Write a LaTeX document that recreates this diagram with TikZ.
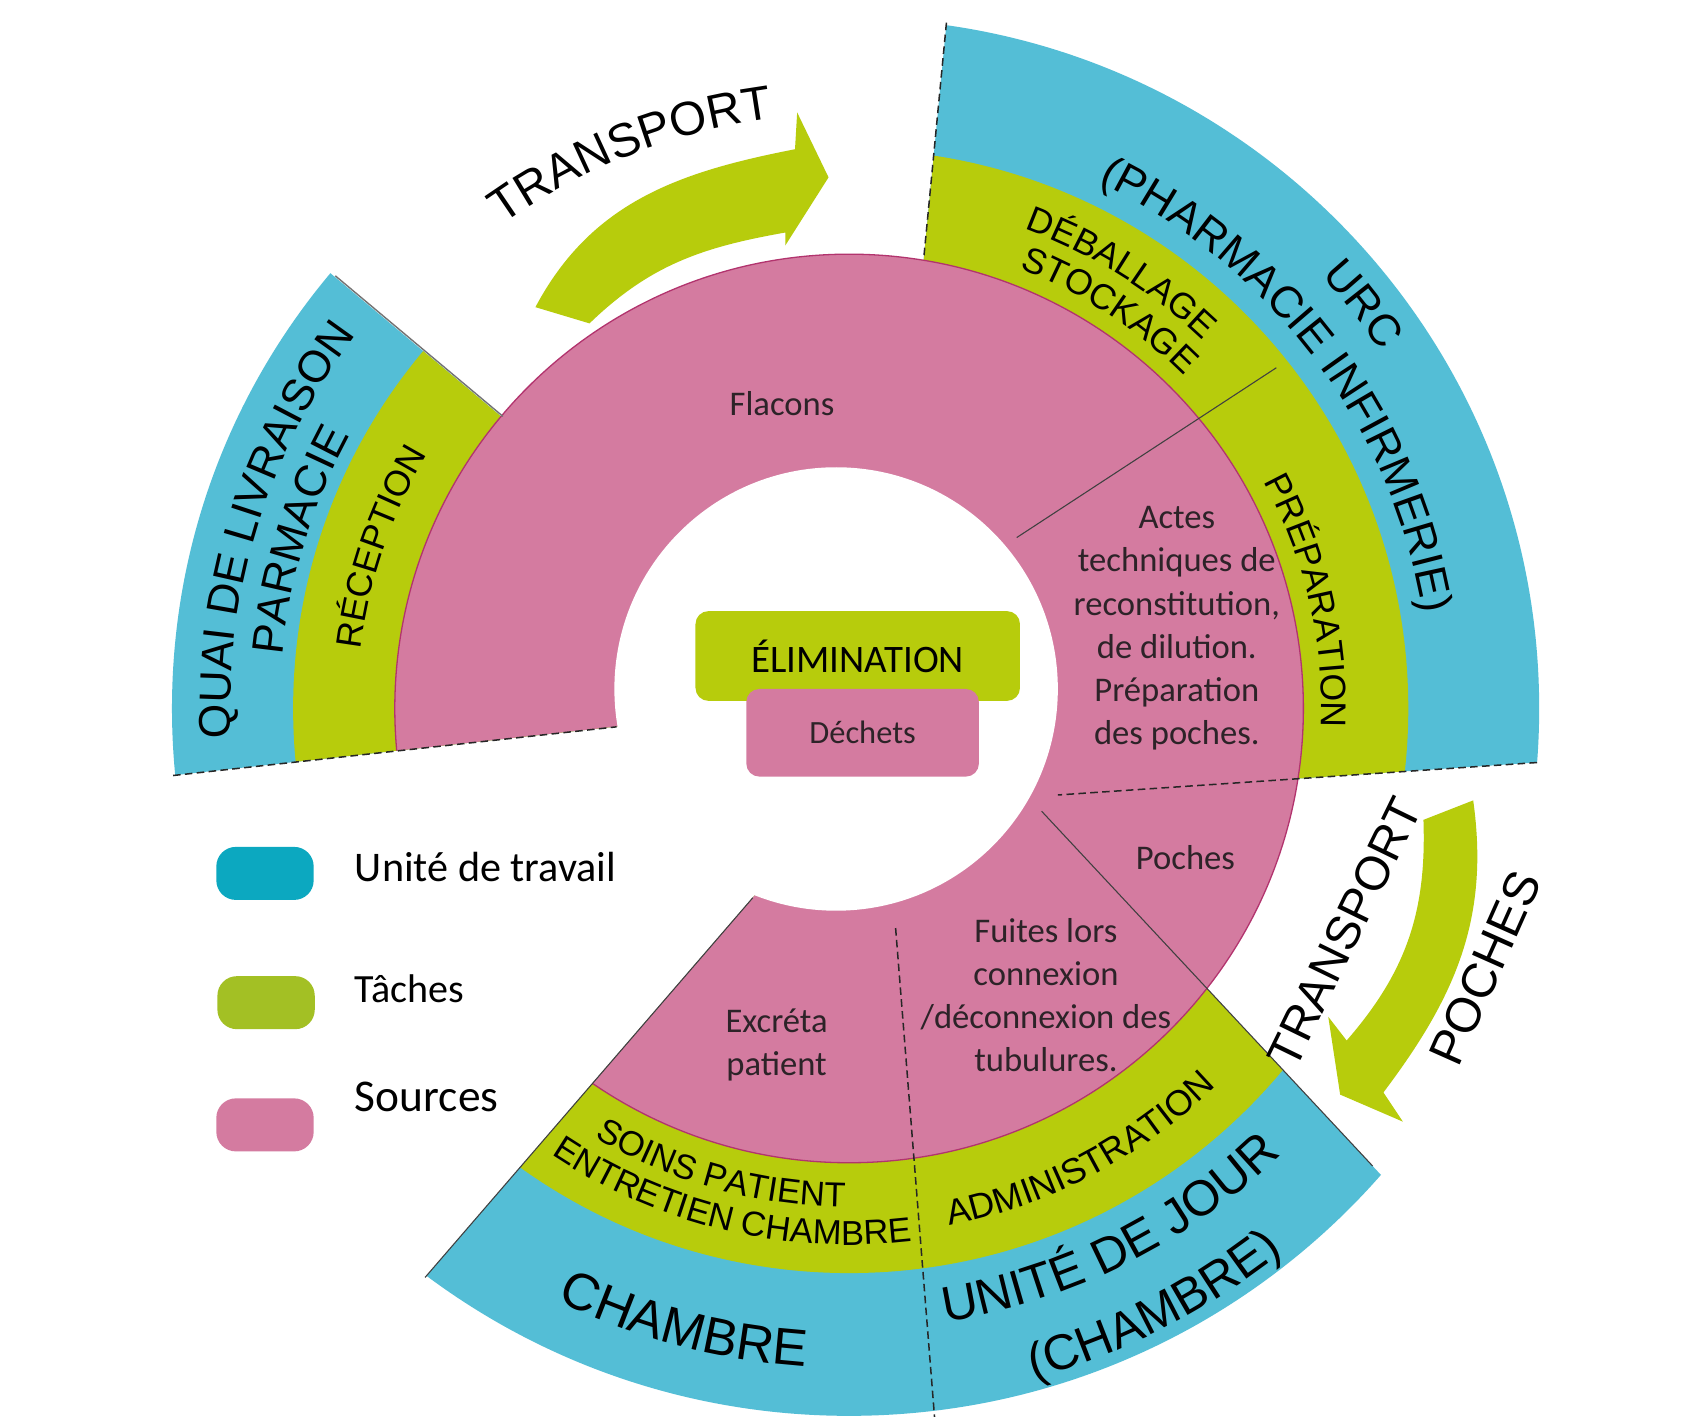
\documentclass[tikz,border=0pt]{standalone}
\usepackage{fontspec}
\setmainfont{Carlito}
\newfontfamily\arialf{Liberation Sans}
\usetikzlibrary{calc,decorations.text}
\definecolor{ublue}{RGB}{84,190,214}
\definecolor{ugreen}{RGB}{183,204,12}
\definecolor{upink}{RGB}{212,123,160}
\definecolor{pedge}{RGB}{178,52,110}
\definecolor{lblue}{RGB}{12,168,192}
\definecolor{lgreen}{RGB}{163,192,36}
\definecolor{txtdark}{RGB}{45,35,40}
\newcommand\RingLabel[5]{%
  \path[decorate,decoration={text along path,text align=center,
    text={|\arialf\fontsize{#4}{#4}\selectfont|#5}}]
    ($(C1)+(#2:#1)$) arc[start angle=#2,end angle=#3,radius=#1];}
\begin{document}
\begin{tikzpicture}[x=1pt,y=1pt,
  divider/.style={draw=black!75, line width=1pt},
  dashdiv/.style={draw=black!85, line width=1.4pt, dash pattern=on 7pt off 4pt},
  srctext/.style={font=\fontsize{32}{40}\selectfont, text=txtdark, align=center},
  legbox/.style={rounded corners=18pt, minimum width=90pt, minimum height=49pt, inner sep=0pt},
  legtext/.style={anchor=base west, inner sep=0pt, text=black}]
\useasboundingbox (0,0) rectangle (1568,1316);
\fill[white] (0,0) rectangle (1568,1316);
\coordinate (C1) at (785,661);
\coordinate (C0) at (773,679);

% ---- left sector (quai / reception)
\begin{scope}
  \clip (785,661) -- (95.6,1239.5) -- (-100,1239.5) -- (-100,570.5) -- (785,668) -- cycle;
  \fill[ublue] (C1) circle[radius=626];
  \fill[ugreen] (C1) circle[radius=514];
\end{scope}
% ---- URC sector
\begin{scope}
  \clip (886.7,1416) -- (1700,1416) -- (1700,630) -- (814,570) -- (814,661) -- cycle;
  \fill[ublue] (C1) circle[radius=638];
  \fill[ugreen] (C1) circle[radius=517];
\end{scope}
% ---- bottom sectors
\begin{scope}
  \clip (104,-200) -- (808,616) -- (916,616) -- (1678,-200) -- cycle;
  \fill[ublue] (C1) circle[radius=654];
  \fill[ugreen] (C1) circle[radius=522];
\end{scope}
% ---- pink ring
\begin{scope}
  \clip (-100,570.5) -- (-100,1500) -- (1700,1500) -- (1700,-200) -- (104,-200) -- (808,616) -- (785,668) -- cycle;
  \fill[upink] (C1) circle[radius=420];
  \draw[pedge, line width=1.2pt] (C1) circle[radius=420];
\end{scope}
\fill[white] (C0) circle[radius=205];

% ---- dividers
\coordinate (fa) at (940,819);  \coordinate (fb) at (1180,976);
\coordinate (pa) at (963,566);  \coordinate (pb) at (1269,238);
\coordinate (ea) at (696,486);  \coordinate (eb) at (393,135);
\coordinate (ta) at (310,1061); \coordinate (tb) at (465,931);
\coordinate (la) at (160,599);  \coordinate (lb) at (570,644);
\coordinate (ua) at (875,1295); \coordinate (ub) at (854,1077);
\coordinate (ra) at (1421,611); \coordinate (rb) at (978,581);
\coordinate (xa) at (828,458);  \coordinate (xb) at (864,6);
\draw[divider] (fa) -- (fb);
\draw[divider] (pa) -- (pb);
\draw[divider] (ea) -- (eb);
\draw[black!55, line width=1.3pt] (ta) -- (tb);
\draw[dashdiv] (la) -- (lb);
\draw[dashdiv] (ua) -- (ub);
\draw[dashdiv] (ra) -- (rb);
\draw[dashdiv] (xa) -- (xb);

% ---- ring labels
\RingLabel{572}{207.8}{117.8}{41}{QUAI DE LIVRAISON}
\RingLabel{526}{208}{118}{41}{PARMACIE}
\RingLabel{455}{206}{116}{33}{RÉCEPTION}
\RingLabel{592}{83.2}{-6.8}{41}{URC}
\RingLabel{538}{82}{-8}{41}{(PHARMACIE INFIRMERIE)}
\RingLabel{472}{103}{13}{33}{DÉBALLAGE}
\RingLabel{436}{101.8}{11.8}{33}{STOCKAGE}
\RingLabel{437}{58.2}{-31.8}{33}{PRÉPARATION}
\RingLabel{610}{210}{300}{48}{CHAMBRE}
\RingLabel{461}{209.4}{299.4}{32}{SOINS PATIENT}
\RingLabel{496}{211.5}{301.5}{32}{ENTRETIEN CHAMBRE}
\RingLabel{487}{252.6}{342.6}{33}{ADMINISTRATION}
\RingLabel{574}{251.5}{341.5}{46}{UNITÉ DE JOUR}
\RingLabel{643}{252}{342}{46}{(CHAMBRE)}
\RingLabel{550}{156.5}{66.5}{44}{TRANSPORT}

% ---- source texts
\node[srctext] (flacons) at (723,943) {Flacons};
\node[srctext] (actes) at (1088,735) {Actes\\techniques de\\reconstitution,\\de dilution.\\Préparation\\des poches.};
\node[srctext] (poches) at (1096,523) {Poches};
\node[srctext] (fuites) at (967,396) {Fuites lors\\connexion\\/déconnexion des\\tubulures.};
\node[srctext] (excreta) at (718,350) {Excréta\\patient};

% ---- arrows
\fill[ugreen] (495,1032) to[out=62,in=191] (735,1178) -- (737,1212) -- (766,1152)
  -- (726,1089) -- (726,1101) to[out=190,in=44] (545,1017) -- cycle;
\fill[ugreen] (1316,558) -- (1362,576) to[out=-82,in=53] (1279,306) -- (1297,279)
  -- (1239,304) -- (1228,376) -- (1245,354) to[out=49,in=-88] (1316,558) -- cycle;
\node[rotate=64, inner sep=0pt, font=\arialf\fontsize{44}{44}\selectfont] (tr2) at (1243,454) {TRANSPORT};
\node[rotate=66, inner sep=0pt, font=\arialf\fontsize{45}{45}\selectfont] (poch2) at (1373,421) {POCHES};

% ---- centre boxes
\node[fill=ugreen, rounded corners=12pt, minimum width=300pt, minimum height=83pt,
  font=\fontsize{36}{36}\selectfont] (elim) at (793,709.5) {ÉLIMINATION};
\node[fill=upink, rounded corners=12pt, minimum width=215pt, minimum height=81pt,
  font=\fontsize{30}{30}\selectfont, text=txtdark] (dech) at (797.5,638.5) {Déchets};

% ---- legend
\node[legbox, fill=lblue] (lgb) at (245,508.5) {};
\node[legbox, fill=lgreen] (lgg) at (246,389) {};
\node[legbox, fill=upink] (lgp) at (245,276) {};
\node[legtext, font=\fontsize{39}{39}\selectfont] (lgbt) at (328,501) {Unité de travail};
\node[legtext, font=\fontsize{37}{37}\selectfont] (lggt) at (328,389) {Tâches};
\node[legtext, font=\fontsize{42}{42}\selectfont] (lgpt) at (328,288) {Sources};
\end{tikzpicture}
\end{document}
